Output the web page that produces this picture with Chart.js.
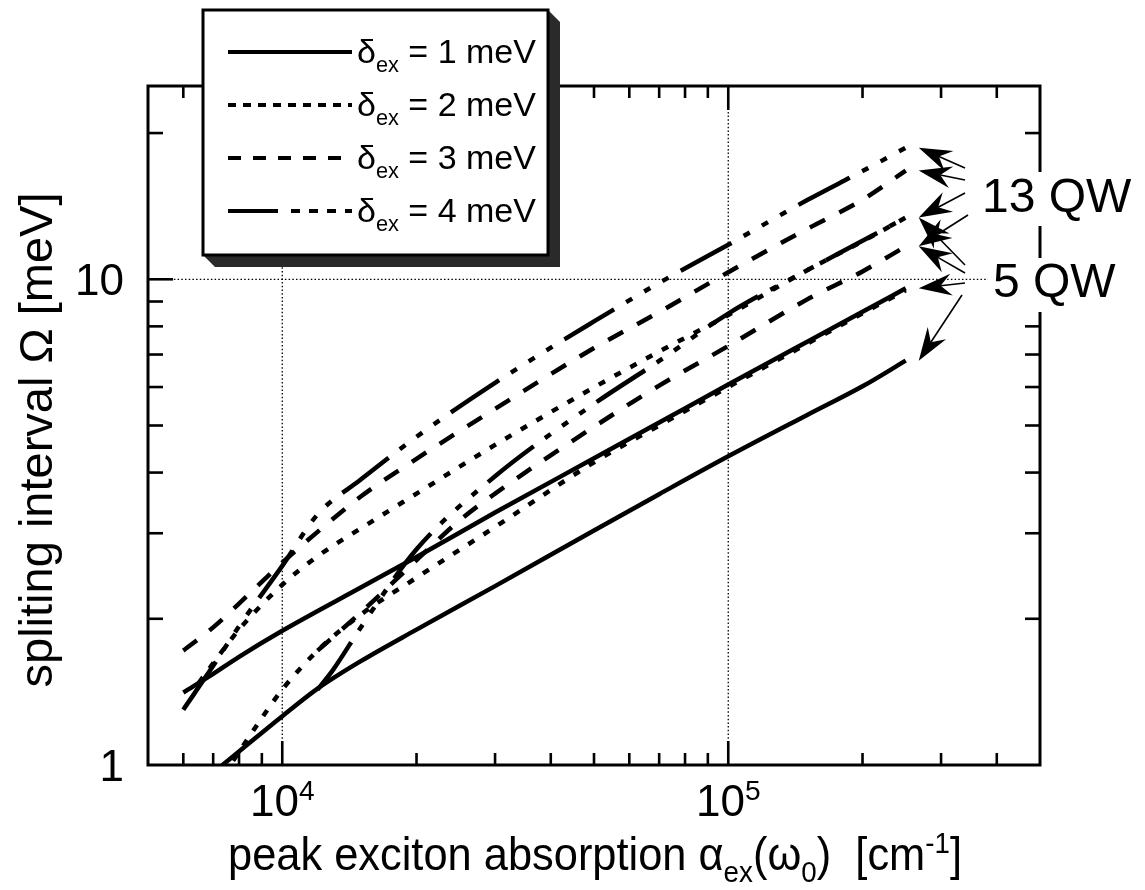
<!DOCTYPE html>
<html><head><meta charset="utf-8">
<script src="https://cdn.jsdelivr.net/npm/chart.js@4.4.1/dist/chart.umd.min.js"></script>
<style>html,body{margin:0;padding:0;background:#fff}#wrap{width:1145px;height:890px}</style>
</head><body><div id="wrap"><canvas id="c" width="1145" height="890"></canvas></div>
<script>
// ---------------- data ----------------
const xS13 = [6000,7000,8000,10000,15000,20000,30000,50000,70000,100000,150000,200000,250000];
const yS13 = [1.41,1.54,1.67,1.89,2.32,2.68,3.31,4.28,5.07,6.07,7.43,8.57,9.58];
const xS5  = [6000,7000,8000,10000,12000,15000,20000,30000,50000,70000,100000,150000,200000,250000];
const yS5  = [0.855,0.964,1.066,1.26,1.436,1.636,1.90,2.335,3.04,3.61,4.32,5.25,6.02,6.80];
const xD13 = [6500,7000,8000,10000,12000,15000,20000,30000,50000,70000,100000,150000,200000,250000];
const yD13 = [1.476,1.62,1.90,2.35,2.69,3.07,3.62,4.56,5.99,7.10,8.44,10.43,11.97,13.40];
const xD5  = [7000,8000,9000,10000,12000,15000,20000,30000,50000,70000,100000,150000,200000,250000];
const yD5  = [0.885,1.064,1.25,1.43,1.72,2.04,2.43,3.09,4.20,5.00,6.00,7.36,8.51,9.49];
const xDs13 = [6000,7000,8000,10000,12000,15000,20000,30000,50000,70000,100000,150000,200000,250000];
const yDs13 = [1.72,1.92,2.15,2.61,3.02,3.57,4.27,5.41,7.22,8.56,10.34,12.69,14.58,16.74];
const xDs5  = [12000,15000,20000,25000,30000,50000,70000,100000,150000,200000,250000];
const yDs5  = [1.72,2.06,2.64,3.19,3.62,4.97,6.04,7.29,9.08,10.38,11.69];
const xDD13 = [6000,7000,8000,10000,12000,15000,20000,30000,50000,70000,100000,150000,200000,250000];
const yDD13 = [1.30,1.60,1.93,2.57,3.28,3.87,4.74,6.12,8.19,9.83,11.78,14.54,16.70,18.66];
const xDD5  = [12000,13000,15000,20000,30000,50000,70000,100000,150000,200000,250000];
const yDD5  = [1.43,1.57,1.92,2.78,3.93,5.54,6.79,8.50,10.43,12.0,13.40];

const xMajorTicks = [10000,100000];
const xMinorTicks = [6000,7000,8000,9000,20000,30000,40000,50000,60000,70000,80000,90000,200000,300000,400000];
const xTickLabels = [['10','4'],['10','5']];
const yMajorTicks = [10];
const yMinorTicks = [2,3,4,5,6,7,8,9,20];
const yTickValues = [1,10];
const yTickLabels = ['1','10'];
const legendLabels = ['1','2','3','4'];
const xTitle = [['peak exciton absorption α'],['ex','sub'],['(ω'],['0','sub'],[')  [cm'],['-1','sup'],[']']];
const yTitle = [['spliting interval Ω [meV]']];
const label13 = '13 QW', label5 = '5 QW';

// ---------------- styles ----------------
const FONT = '"Liberation Sans", Arial, Helvetica, sans-serif';
const DASH = { solid: [], dot: [7,11], dash: [17,16], dashdot: [58,14,7,14,7,14,7,14] };
const LDASH = { solid: [], dot: [8,7], dash: [13,12], dashdot: [50,13,9,9,9,9,9,9,8] };

function pts(xs, ys){ return xs.map((v,i)=>({x:v, y:ys[i]})); }
function ds(id, xs, ys, style){
  return { label:id, data: pts(xs,ys), borderColor:'#000', borderWidth:4.5, borderDash:DASH[style],
    borderCapStyle:'butt', pointRadius:0, fill:false, cubicInterpolationMode:'monotone' };
}
const datasets = [
  ds('S13', xS13, yS13, 'solid'), ds('S5', xS5, yS5, 'solid'),
  ds('D13', xD13, yD13, 'dot'),   ds('D5', xD5, yD5, 'dot'),
  ds('Ds13', xDs13, yDs13, 'dash'), ds('Ds5', xDs5, yDs5, 'dash'),
  ds('DD13', xDD13, yDD13, 'dashdot'), ds('DD5', xDD5, yDD5, 'dashdot')
];

function segWidth(ctx, segs, size){
  let w=0;
  for (const [t,k] of segs){ ctx.font = (k? size*0.64 : size)+'px '+FONT; w += ctx.measureText(t).width; }
  return w;
}
function drawRich(ctx, segs, size, startX, baseY){
  let xx = startX;
  for (const [t,k] of segs){
    const s = k? size*0.64 : size;
    ctx.font = s+'px '+FONT;
    const dy = k==='sub' ? size*0.26 : (k==='sup' ? -size*0.36 : 0);
    ctx.fillText(t, xx, baseY+dy);
    xx += ctx.measureText(t).width;
  }
}
function line(ctx,x0,y0,x1,y1){ ctx.beginPath(); ctx.moveTo(x0,y0); ctx.lineTo(x1,y1); ctx.stroke(); }
function arrow(ctx,x0,y0,x1,y1){
  const ang=Math.atan2(y1-y0,x1-x0), c=Math.cos(ang), s=Math.sin(ang);
  const L=33, W=11, N=11;
  ctx.lineWidth=1.6; ctx.setLineDash([]);
  line(ctx,x0,y0,x1-(L-N)*c,y1-(L-N)*s);
  ctx.beginPath();
  ctx.moveTo(x1,y1);
  ctx.lineTo(x1-L*c - W*s, y1-L*s + W*c);
  ctx.lineTo(x1-(L-N)*c, y1-(L-N)*s);
  ctx.lineTo(x1-L*c + W*s, y1-L*s - W*c);
  ctx.closePath(); ctx.fill();
}

const deco = {
  id:'deco',
  beforeDatasetsDraw(chart){
    const {ctx, chartArea:a, scales:{x,y}} = chart;
    ctx.save();
    ctx.strokeStyle='#000'; ctx.lineWidth=1.3; ctx.setLineDash([1.5,2.2]);
    for (const v of xMajorTicks){ const px=x.getPixelForValue(v); line(ctx,px,a.top,px,a.bottom); }
    for (const v of yMajorTicks){ const py=y.getPixelForValue(v); line(ctx,a.left,py,a.right,py); }
    ctx.restore();
  },
  afterDraw(chart){
    const {ctx, chartArea:a, scales:{x,y}} = chart;
    ctx.save();
    ctx.strokeStyle='#000'; ctx.fillStyle='#000'; ctx.setLineDash([]);
    ctx.lineWidth=2.6;
    for (const v of xMinorTicks){ const px=x.getPixelForValue(v); line(ctx,px,a.bottom,px,a.bottom-12); line(ctx,px,a.top,px,a.top+12); }
    for (const v of xMajorTicks){ const px=x.getPixelForValue(v); line(ctx,px,a.bottom,px,a.bottom-24); line(ctx,px,a.top,px,a.top+24); }
    for (const v of yMinorTicks){ const py=y.getPixelForValue(v); line(ctx,a.left,py,a.left+15,py); line(ctx,a.right,py,a.right-15,py); }
    for (const v of yMajorTicks){ const py=y.getPixelForValue(v); line(ctx,a.left,py,a.left+25,py); line(ctx,a.right,py,a.right-25,py); }
    ctx.lineWidth=3;
    ctx.strokeRect(a.left,a.top,a.right-a.left,a.bottom-a.top);

    ctx.textBaseline='alphabetic';
    xMajorTicks.forEach((v,i)=>{
      const px=x.getPixelForValue(v), segs=[[xTickLabels[i][0]],[xTickLabels[i][1],'sup']];
      const w=segWidth(ctx,segs,44);
      drawRich(ctx,segs,44,px-w/2,a.bottom+51);
    });
    ctx.font='44px '+FONT; ctx.textAlign='right';
    yTickValues.forEach((v,i)=>{ const py=y.getPixelForValue(v); ctx.fillText(yTickLabels[i], a.left-24, py+16); });
    ctx.textAlign='left';

    { const size=46, w=segWidth(ctx,xTitle,size), target=734, sx=target/w;
      ctx.save(); ctx.translate(228, a.bottom+105); ctx.scale(sx,1); drawRich(ctx,xTitle,size,0,0); ctx.restore(); }
    { const size=46, w=segWidth(ctx,yTitle,size), target=495, sx=target/w;
      ctx.save(); ctx.translate(52, 440); ctx.rotate(-Math.PI/2); ctx.scale(sx,1); drawRich(ctx,yTitle,size,-w/2,0); ctx.restore(); }

    const L={l:203,t:10,r:548,b:255}, off=12;
    ctx.fillStyle='#2a2a2a';
    ctx.beginPath(); ctx.moveTo(L.r,L.t); ctx.lineTo(L.r+off,L.t+off); ctx.lineTo(L.r+off,L.b+off);
    ctx.lineTo(L.l+off,L.b+off); ctx.lineTo(L.l,L.b); ctx.closePath(); ctx.fill();
    ctx.fillStyle='#fff'; ctx.fillRect(L.l,L.t,L.r-L.l,L.b-L.t);
    ctx.lineWidth=3; ctx.strokeStyle='#000'; ctx.strokeRect(L.l,L.t,L.r-L.l,L.b-L.t);
    ctx.fillStyle='#000';
    const styles=['solid','dot','dash','dashdot'];
    styles.forEach((st,i)=>{
      const cy=L.t+42+i*53;
      ctx.lineWidth=4; ctx.setLineDash(LDASH[st]); ctx.lineCap='butt';
      line(ctx,228,cy,352,cy);
      ctx.setLineDash([]);
      drawRich(ctx,[['δ'],['ex','sub'],[' = '+legendLabels[i]+' meV']],34,357,cy+11);
    });

    ctx.fillStyle='#fff';
    ctx.fillRect(976,172,169,54);
    ctx.fillRect(988,258,157,54);
    ctx.fillStyle='#000';
    ctx.font='48px '+FONT;
    ctx.fillText(label13, 982, 212);
    ctx.fillText(label5, 993, 297);

    const endPt = id => { const d=chart.data.datasets.find(q=>q.label===id).data; const p=d[d.length-1];
      return [x.getPixelForValue(p.x)+13, y.getPixelForValue(p.y)]; };
    const arrows13 = [[965,168,'DD13'],[965,180,'Ds13'],[965,193,'D13'],[968,215,'Ds5']];
    const arrows5  = [[965,265,'DD5'],[965,273,'Ds5'],[965,283,'S13'],[962,295,'S5']];
    for (const [sx0,sy0,id] of arrows13.concat(arrows5)){ const [tx,ty]=endPt(id); arrow(ctx,sx0,sy0,tx,ty); }
    ctx.restore();
  }
};

new Chart(document.getElementById('c'), {
  type:'line',
  data:{ datasets },
  options:{
    responsive:false, animation:false, devicePixelRatio:1,
    layout:{ padding:{ left:148, right:105, top:86, bottom:125 } },
    plugins:{ legend:{display:false}, tooltip:{enabled:false} },
    scales:{
      x:{ type:'logarithmic', min:5000, max:500000, display:false },
      y:{ type:'logarithmic', min:1, max:25, display:false }
    }
  },
  plugins:[deco]
});
</script></body></html>
